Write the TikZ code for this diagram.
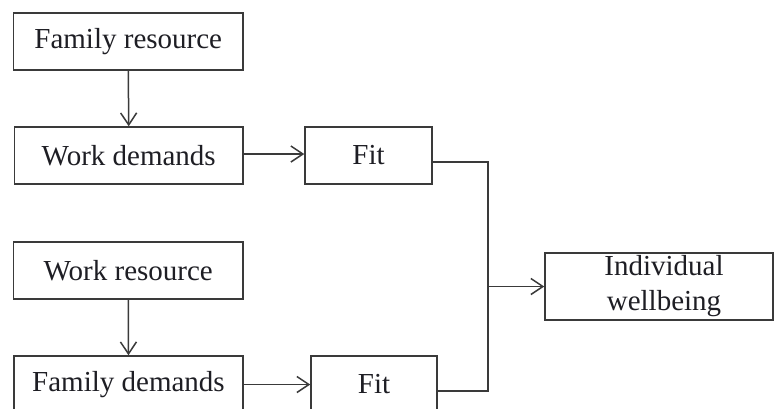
\documentclass[tikz,border=0pt]{standalone}
\usepackage{fontspec}
\setmainfont{Liberation Serif}
\usetikzlibrary{arrows.meta}
\definecolor{linec}{HTML}{3A3A3A}
\definecolor{textc}{HTML}{1E1E24}
\tikzset{
  box/.style={draw=linec, line width=1.5pt, inner sep=0pt, text=textc,
    font=\fontsize{29}{35}\selectfont, align=center},
  conn/.style={draw=linec, line width=1.5pt},
  arr/.style={conn, -{Straight Barb[length=12pt,width=16pt,line width=1.5pt]}}
}
\begin{document}
\begin{tikzpicture}[x=1pt,y=-1pt]
\useasboundingbox (0,0) rectangle (775,408);
\clip (0,0) rectangle (775,408);
\fill[white] (0,0) rectangle (775,408);
\node[box, minimum width=229.5pt, minimum height=57pt] (fr) at (128.25,41.5) {Family resource};
\node[box, minimum width=228.5pt, minimum height=57pt] (wd) at (128.75,155.5) {Work demands};
\node[box, minimum width=127pt, minimum height=57pt] (fit1) at (368.5,155.5) {Fit};
\node[box, minimum width=229.5pt, minimum height=57pt] (wr) at (128.25,270.5) {Work resource};
\node[box, minimum width=229pt, minimum height=57pt] (fd) at (128.5,384.5) {Family demands};
\node[box, minimum width=126pt, minimum height=57pt] (fit2) at (374,384.5) {Fit};
\node[box, minimum width=228pt, minimum height=67pt, text width=220pt] (iw) at (659,286.5) {\hspace*{10pt}Individual\\\hspace*{10pt}wellbeing};
\coordinate (j) at (488,286.5);
\draw[arr] (fr.south) -- (wd.north);
\draw[arr] (wr.south) -- (fd.north);
\draw[arr] ([yshift=1.5pt]wd.east) -- ([yshift=1.5pt]fit1.west);
\draw[arr] (fd.east) -- (fit2.west);
\draw[conn] ([yshift=-6.5pt]fit1.east) -| (j) |- ([yshift=-6.5pt]fit2.east);
\draw[arr] (j) -- (iw.west);
\end{tikzpicture}
\end{document}
